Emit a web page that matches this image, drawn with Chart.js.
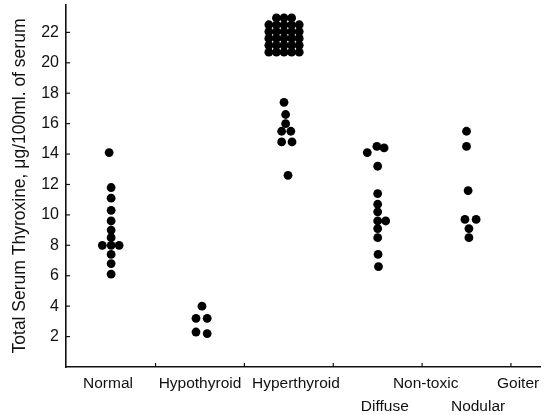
<!DOCTYPE html>
<html><head><meta charset="utf-8">
<script src="https://cdn.jsdelivr.net/npm/chart.js@4"></script>
<style>html,body{margin:0;padding:0;background:#fff}</style>
</head><body>
<canvas id="c" width="554" height="415"></canvas>
<script>
// ---- data ----
const categories = ["Normal", "Hypothyroid", "Hyperthyroid", "Diffuse", "Nodular"];
const normalValues  = [14.1, 11.8, 11.1, 10.3, 9.6, 9.0, 8.5, 8.0, 8.0, 8.0, 7.4, 6.8, 6.1];
const normalOffsets = [-0.25, 0, 0, 0, 0, 0, 0, -1.1, 0, 1.0, 0, 0, 0];
const hypoValues  = [4.0, 3.2, 3.2, 2.3, 2.2];
const hypoOffsets = [0.25, -0.5, 0.9, -0.5, 0.9];
const hyperValues = [
  22.95, 22.95, 22.95,
  22.5, 22.5, 22.5, 22.5, 22.5,
  22.05, 22.05, 22.05, 22.05, 22.05,
  21.6, 21.6, 21.6, 21.6, 21.6,
  21.15, 21.15, 21.15, 21.15, 21.15,
  20.7, 20.7, 20.7, 20.7, 20.7,
  17.4, 16.6, 16.0, 15.5, 15.5, 14.8, 14.8, 12.6];
const hyperOffsets = [
  -1.55, -0.6, 0.35,
  -2.5, -1.55, -0.6, 0.35, 1.3,
  -2.5, -1.55, -0.6, 0.35, 1.3,
  -2.5, -1.55, -0.6, 0.35, 1.3,
  -2.5, -1.55, -0.6, 0.35, 1.3,
  -2.5, -1.55, -0.6, 0.35, 1.3,
  -0.6, -0.4, -0.4, -0.9, 0.25, -0.9, 0.4, -0.1];
const diffuseValues  = [14.1, 14.5, 14.4, 13.2, 11.4, 10.7, 10.2, 9.6, 9.6, 9.1, 8.5, 7.4, 6.6];
const diffuseOffsets = [-1.3, -0.1, 0.8, 0, 0, 0, 0, 0, 1.0, 0, 0, 0.05, 0.1];
const nodularValues  = [15.5, 14.5, 11.6, 9.7, 9.7, 9.1, 8.5];
const nodularOffsets = [0, 0, 0.2, -0.2, 1.2, 0.3, 0.3];

const topLabels = ["Normal", "Hypothyroid", "Hyperthyroid", "Non-toxic", "Goiter"];
const bottomLabels = ["Diffuse", "Nodular"];
const yTicks = [2, 4, 6, 8, 10, 12, 14, 16, 18, 20, 22];
const yTitle = "Total Serum Thyroxine, \u03BCg/100ml. of serum";

// ---- layout ----
const COL = 0.09;                       // one dot column in x units
const topLabelPos = [-0.035, 1.0, 2.08, 3.54, 4.58];
const bottomLabelPos = [3.08, 4.13];
const boundaryPos = [0.5, 1.5, 2.5, 3.5, 4.5];
const FONT = "'Liberation Sans', Arial, sans-serif";

const groups = [
  [normalValues, normalOffsets],
  [hypoValues, hypoOffsets],
  [hyperValues, hyperOffsets],
  [diffuseValues, diffuseOffsets],
  [nodularValues, nodularOffsets]
];

const datasets = groups.map(([vals, offs], gi) => ({
  label: categories[gi],
  data: vals.map((v, i) => ({ x: gi + offs[i] * COL, y: v })),
  backgroundColor: '#000',
  borderWidth: 0,
  pointRadius: 4.4,
  pointHoverRadius: 4.4,
  clip: false
}));

const innerTicks = {
  id: 'innerTicks',
  afterDraw(chart) {
    const ctx = chart.ctx, x = chart.scales.x, y = chart.scales.y;
    ctx.save();
    ctx.strokeStyle = '#111';
    ctx.lineWidth = 1.2;
    yTicks.forEach(v => {
      const py = y.getPixelForValue(v);
      ctx.beginPath(); ctx.moveTo(y.right, py); ctx.lineTo(y.right + 4, py); ctx.stroke();
    });
    boundaryPos.forEach(v => {
      const px = x.getPixelForValue(v);
      ctx.beginPath(); ctx.moveTo(px, x.top); ctx.lineTo(px, x.top - 4); ctx.stroke();
    });
    ctx.restore();
  }
};

const noPad = s => { s.paddingTop = 0; s.paddingBottom = 0; s.paddingLeft = 0; s.paddingRight = 0; };

new Chart(document.getElementById('c'), {
  type: 'scatter',
  data: { datasets },
  plugins: [innerTicks],
  options: {
    responsive: false,
    devicePixelRatio: 1,
    animation: false,
    layout: { padding: { top: 5, right: 14, bottom: 0, left: 0 } },
    plugins: { legend: { display: false }, tooltip: { enabled: false } },
    scales: {
      x: {
        type: 'linear', position: 'bottom', weight: 0,
        min: -0.508, max: 4.827,
        grid: { display: false, drawTicks: false },
        border: { display: true, color: '#111', width: 1.6 },
        afterBuildTicks: s => { s.ticks = topLabelPos.map(v => ({ value: v })); },
        afterFit: s => { s.height = 26; noPad(s); },
        ticks: {
          autoSkip: false, maxRotation: 0, padding: 7, color: '#111',
          font: { family: FONT, size: 15.5 },
          callback: (v, i) => topLabels[i]
        }
      },
      x2: {
        type: 'linear', position: 'bottom', weight: 1,
        min: -0.508, max: 4.827,
        grid: { display: false, drawTicks: false },
        border: { display: false },
        afterBuildTicks: s => { s.ticks = bottomLabelPos.map(v => ({ value: v })); },
        afterFit: s => { s.height = 22; noPad(s); },
        ticks: {
          autoSkip: false, maxRotation: 0, padding: 4, color: '#111',
          font: { family: FONT, size: 15.5 },
          callback: (v, i) => bottomLabels[i]
        }
      },
      y: {
        type: 'linear', position: 'left',
        min: 0, max: 23.8,
        grid: { display: false, drawTicks: false },
        border: { display: true, color: '#111', width: 1.6 },
        afterBuildTicks: s => { s.ticks = yTicks.map(v => ({ value: v })); },
        afterFit: s => { s.width = 66; noPad(s); },
        ticks: { padding: 7, color: '#111', font: { family: FONT, size: 16 } },
        title: {
          display: true, text: yTitle, color: '#111',
          font: { family: FONT, size: 17.5 },
          padding: { top: 10, bottom: 0 }
        }
      }
    }
  }
});
</script>
</body></html>
